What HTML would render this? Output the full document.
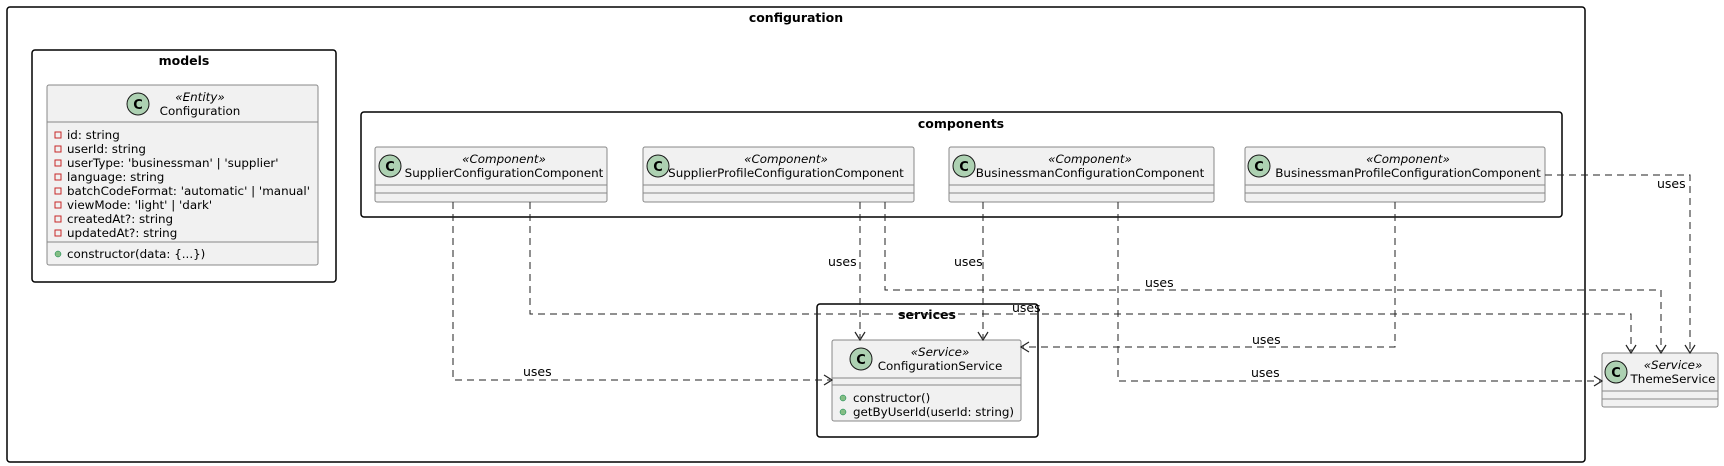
<!DOCTYPE html>
<html><head><meta charset="utf-8"><style>
body{margin:0;background:#fff}
svg{display:block;font-family:"DejaVu Sans","Liberation Sans",sans-serif}
.b{fill:none;stroke:#000;stroke-width:1.5}
.c{fill:#f1f1f1;stroke:#888;stroke-width:1}
.d{stroke:#888;stroke-width:1}
.l{fill:none;stroke:#222;stroke-width:1;stroke-dasharray:7,5}
.a{fill:none;stroke:#222;stroke-width:1.2}
.t{font-size:11.9px;fill:#000}
.s{font-size:11.9px;font-style:italic;fill:#000}
.g{font-size:12.5px;font-weight:bold;fill:#000}
.u{font-size:12.5px;fill:#000}
.ic{fill:#add1b2;stroke:#181818;stroke-width:1}
.ct{font-size:13px;font-weight:bold;fill:#000}
</style></head><body>
<svg width="1724" height="466" viewBox="0 0 1724 466">
<rect class="b" x="7" y="7" width="1578" height="455" rx="3"/>
<text class="g" x="796" y="22" text-anchor="middle">configuration</text>
<rect class="b" x="32" y="50" width="304" height="232" rx="3"/>
<text class="g" x="184" y="65" text-anchor="middle">models</text>
<rect class="b" x="361" y="112" width="1201" height="105" rx="3"/>
<text class="g" x="961" y="128" text-anchor="middle">components</text>
<rect class="b" x="817" y="304" width="221" height="133" rx="3"/>
<text class="g" x="927" y="319" text-anchor="middle">services</text>

<rect class="c" x="47" y="85" width="271" height="180" rx="2"/>
<line class="d" x1="47" y1="122" x2="318" y2="122"/>
<line class="d" x1="47" y1="242" x2="318" y2="242"/>
<circle class="ic" cx="138" cy="104" r="11"/><text class="ct" x="138" y="109" text-anchor="middle">C</text>
<text class="s" x="200" y="101" text-anchor="middle">«Entity»</text>
<text class="t" x="200" y="115" text-anchor="middle">Configuration</text>
<g fill="none" stroke="#c82828" stroke-width="1">
<rect x="55" y="132" width="6" height="6"/><rect x="55" y="146" width="6" height="6"/><rect x="55" y="160" width="6" height="6"/><rect x="55" y="174" width="6" height="6"/><rect x="55" y="188" width="6" height="6"/><rect x="55" y="202" width="6" height="6"/><rect x="55" y="216" width="6" height="6"/><rect x="55" y="230" width="6" height="6"/></g>
<g class="t">
<text x="67" y="139">id: string</text><text x="67" y="153">userId: string</text><text x="67" y="167">userType: 'businessman' | 'supplier'</text><text x="67" y="181">language: string</text><text x="67" y="195">batchCodeFormat: 'automatic' | 'manual'</text><text x="67" y="209">viewMode: 'light' | 'dark'</text><text x="67" y="223">createdAt?: string</text><text x="67" y="237">updatedAt?: string</text><text x="67" y="258">constructor(data: {...})</text></g>
<circle cx="58" cy="254" r="3" fill="#84be84" stroke="#038048" stroke-width="0.5"/>

<g>
<rect class="c" x="375" y="147" width="232" height="55" rx="2"/><line class="d" x1="375" y1="185" x2="607" y2="185"/><line class="d" x1="375" y1="193" x2="607" y2="193"/>
<circle class="ic" cx="390" cy="166" r="11"/><text class="ct" x="390" y="171" text-anchor="middle">C</text>
<text class="s" x="504" y="163" text-anchor="middle">«Component»</text><text class="t" x="504" y="177" text-anchor="middle">SupplierConfigurationComponent</text>

<rect class="c" x="643" y="147" width="271" height="55" rx="2"/><line class="d" x1="643" y1="185" x2="914" y2="185"/><line class="d" x1="643" y1="193" x2="914" y2="193"/>
<circle class="ic" cx="658" cy="166" r="11"/><text class="ct" x="658" y="171" text-anchor="middle">C</text>
<text class="s" x="786" y="163" text-anchor="middle">«Component»</text><text class="t" x="786" y="177" text-anchor="middle">SupplierProfileConfigurationComponent</text>

<rect class="c" x="949" y="147" width="265" height="55" rx="2"/><line class="d" x1="949" y1="185" x2="1214" y2="185"/><line class="d" x1="949" y1="193" x2="1214" y2="193"/>
<circle class="ic" cx="964" cy="166" r="11"/><text class="ct" x="964" y="171" text-anchor="middle">C</text>
<text class="s" x="1090" y="163" text-anchor="middle">«Component»</text><text class="t" x="1090" y="177" text-anchor="middle">BusinessmanConfigurationComponent</text>

<rect class="c" x="1245" y="147" width="300" height="55" rx="2"/><line class="d" x1="1245" y1="185" x2="1545" y2="185"/><line class="d" x1="1245" y1="193" x2="1545" y2="193"/>
<circle class="ic" cx="1259" cy="166" r="11"/><text class="ct" x="1259" y="171" text-anchor="middle">C</text>
<text class="s" x="1408" y="163" text-anchor="middle">«Component»</text><text class="t" x="1408" y="177" text-anchor="middle">BusinessmanProfileConfigurationComponent</text>
</g>

<rect class="c" x="832" y="340" width="189" height="81" rx="2"/><line class="d" x1="832" y1="378" x2="1021" y2="378"/><line class="d" x1="832" y1="385" x2="1021" y2="385"/>
<circle class="ic" cx="861" cy="359" r="11"/><text class="ct" x="861" y="364" text-anchor="middle">C</text>
<text class="s" x="940" y="356" text-anchor="middle">«Service»</text><text class="t" x="940" y="370" text-anchor="middle">ConfigurationService</text>
<circle cx="843" cy="398" r="3" fill="#84be84" stroke="#038048" stroke-width="0.5"/><circle cx="843" cy="412" r="3" fill="#84be84" stroke="#038048" stroke-width="0.5"/>
<text class="t" x="853" y="402">constructor()</text><text class="t" x="853" y="416">getByUserId(userId: string)</text>

<rect class="c" x="1602" y="353" width="116" height="54" rx="2"/><line class="d" x1="1602" y1="391" x2="1718" y2="391"/><line class="d" x1="1602" y1="399" x2="1718" y2="399"/>
<circle class="ic" cx="1616" cy="372" r="11"/><text class="ct" x="1616" y="377" text-anchor="middle">C</text>
<text class="s" x="1673" y="369" text-anchor="middle">«Service»</text><text class="t" x="1673" y="383" text-anchor="middle">ThemeService</text>

<polyline class="l" points="453,202 453,380 830,380"/>
<polyline class="l" points="530,202 530,314 1631,314 1631,351"/>
<polyline class="l" points="860,202 860,338"/>
<polyline class="l" points="885,202 885,290 1661,290 1661,351"/>
<polyline class="l" points="983,202 983,338"/>
<polyline class="l" points="1118,202 1118,381 1600,381"/>
<polyline class="l" points="1395,202 1395,347 1023,347"/>
<polyline class="l" points="1545,175 1690,175 1690,351"/>
<polyline class="a" points="824,375 832,380 824,385"/>
<polyline class="a" points="855,332 860,340 865,332"/>
<polyline class="a" points="978,332 983,340 988,332"/>
<polyline class="a" points="1029,342 1021,347 1029,352"/>
<polyline class="a" points="1594,376 1602,381 1594,386"/>
<polyline class="a" points="1626,345 1631,353 1636,345"/>
<polyline class="a" points="1656,345 1661,353 1666,345"/>
<polyline class="a" points="1685,345 1690,353 1695,345"/>
<text class="u" x="523" y="376">uses</text>
<text class="u" x="1012" y="312">uses</text>
<text class="u" x="828" y="266">uses</text>
<text class="u" x="1145" y="287">uses</text>
<text class="u" x="954" y="266">uses</text>
<text class="u" x="1251" y="377">uses</text>
<text class="u" x="1252" y="344">uses</text>
<text class="u" x="1657" y="188">uses</text>
</svg>
</body></html>
